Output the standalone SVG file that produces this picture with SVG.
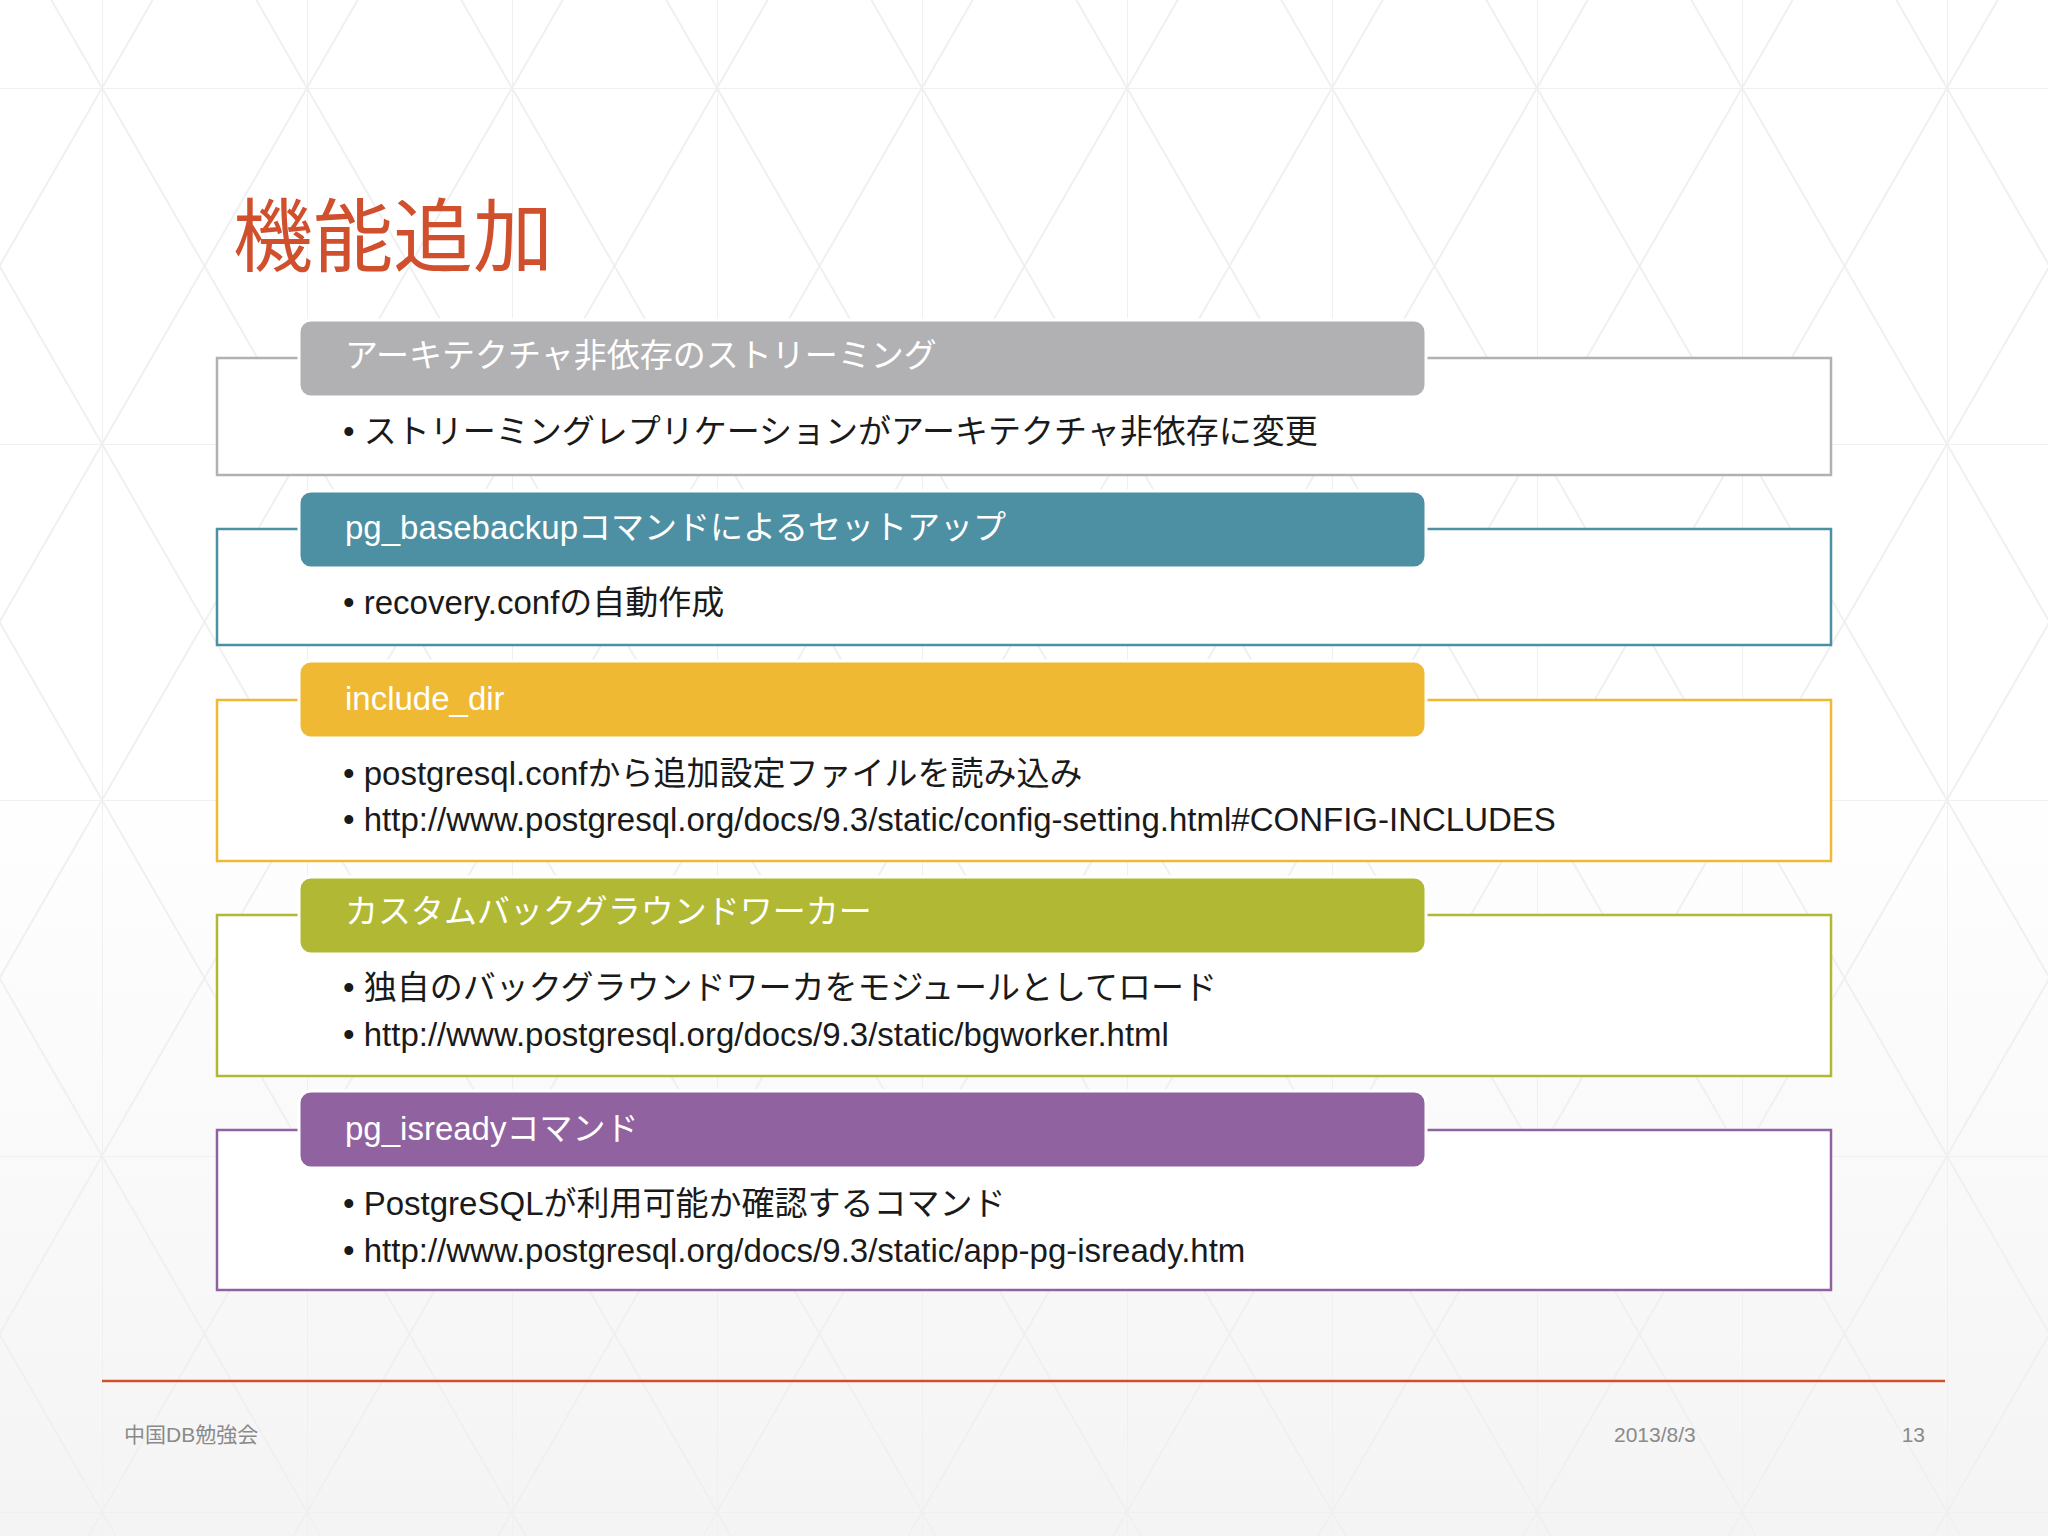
<svg xmlns="http://www.w3.org/2000/svg" width="2048" height="1536" viewBox="0 0 2048 1536">
<defs>
<pattern id="grid" x="102" y="88" width="205" height="356" patternUnits="userSpaceOnUse">
<path d="M0 0V356M0 0H205M0 0L205 356M205 0L0 356" stroke="#f0f0f0" stroke-width="2" fill="none"/>
</pattern>
<linearGradient id="bg" x1="0" y1="0" x2="0" y2="1"><stop offset="0.5" stop-color="#fff"/><stop offset="1" stop-color="#f4f4f4"/></linearGradient>
</defs>
<style>
.outer{fill:#fff;stroke-width:2.5}
.hdr{stroke:#fff;stroke-width:3}
.ht{font-family:"Liberation Sans","Noto Sans CJK JP",sans-serif;font-size:33px;fill:#fff}
.bt{font-family:"Liberation Sans","Noto Sans CJK JP",sans-serif;font-size:33px;fill:#1a1a1a}
.ft{font-family:"Liberation Sans","Noto Sans CJK JP",sans-serif;font-size:21px;fill:#8a8a8a}
</style>
<rect width="2048" height="1536" fill="url(#bg)"/>
<rect width="2048" height="1536" fill="url(#grid)"/>
<text x="233" y="265" font-family="'Noto Sans CJK JP',sans-serif" font-size="80" fill="#d0502e">機能追加</text>

<g id="node1">
<rect class="outer" x="217" y="358" width="1614" height="117" stroke="#b1b0b3"/>
<rect class="hdr" x="299" y="320" width="1127" height="77" rx="12" fill="#b1b0b3"/>
<text class="ht" x="345" y="367">アーキテクチャ非依存のストリーミング</text>
<text class="bt" x="343" y="443">• ストリーミングレプリケーションがアーキテクチャ非依存に変更</text>
</g>
<g id="node2">
<rect class="outer" x="217" y="529" width="1614" height="116" stroke="#4e90a3"/>
<rect class="hdr" x="299" y="491" width="1127" height="77" rx="12" fill="#4e90a3"/>
<text class="ht" x="345" y="539">pg_basebackupコマンドによるセットアップ</text>
<text class="bt" x="343" y="614">• recovery.confの自動作成</text>
</g>
<g id="node3">
<rect class="outer" x="217" y="700" width="1614" height="161" stroke="#efb934"/>
<rect class="hdr" x="299" y="661" width="1127" height="77" rx="12" fill="#efb934"/>
<text class="ht" x="345" y="710">include_dir</text>
<text class="bt" x="343" y="785">• postgresql.confから追加設定ファイルを読み込み</text>
<text class="bt" x="343" y="831">• http://www.postgresql.org/docs/9.3/static/config-setting.html#CONFIG-INCLUDES</text>
</g>
<g id="node4">
<rect class="outer" x="217" y="915" width="1614" height="161" stroke="#b0b834"/>
<rect class="hdr" x="299" y="877" width="1127" height="77" rx="12" fill="#b0b834"/>
<text class="ht" x="345" y="923">カスタムバックグラウンドワーカー</text>
<text class="bt" x="343" y="999">• 独自のバックグラウンドワーカをモジュールとしてロード</text>
<text class="bt" x="343" y="1046">• http://www.postgresql.org/docs/9.3/static/bgworker.html</text>
</g>
<g id="node5">
<rect class="outer" x="217" y="1130" width="1614" height="160" stroke="#9063a0"/>
<rect class="hdr" x="299" y="1091" width="1127" height="77" rx="12" fill="#9063a0"/>
<text class="ht" x="345" y="1140">pg_isreadyコマンド</text>
<text class="bt" x="343" y="1215">• PostgreSQLが利用可能か確認するコマンド</text>
<text class="bt" x="343" y="1262">• http://www.postgresql.org/docs/9.3/static/app-pg-isready.htm</text>
</g>
<g id="connectors"></g>
<line x1="102" y1="1381" x2="1945" y2="1381" stroke="#d0502e" stroke-width="2.5"/>
<text class="ft" x="124" y="1442">中国DB勉強会</text>
<text class="ft" x="1614" y="1442">2013/8/3</text>
<text class="ft" x="1925" y="1442" text-anchor="end">13</text>
</svg>
